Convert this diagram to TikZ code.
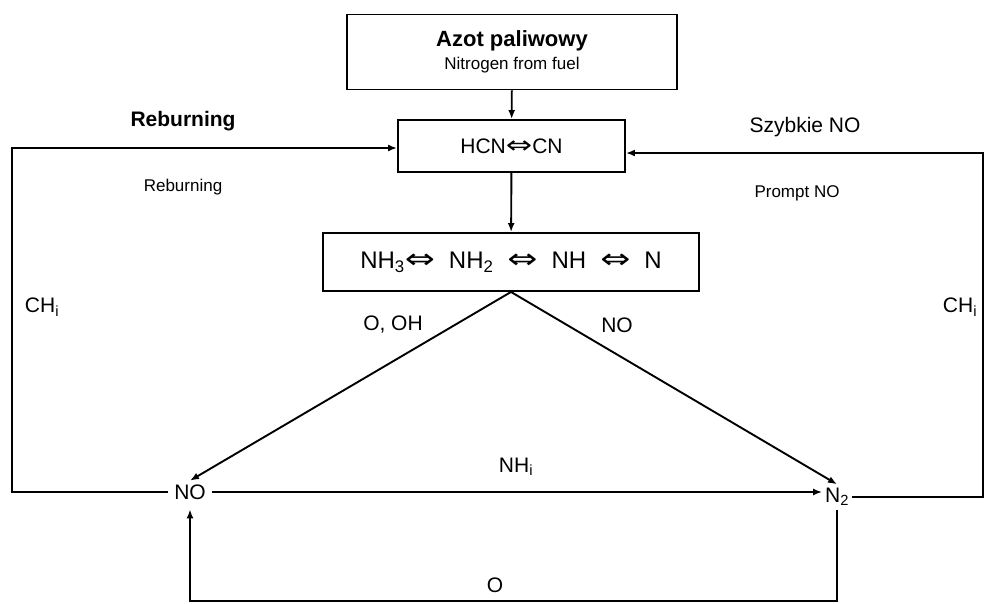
\documentclass[tikz,border=0pt]{standalone}
\usepackage{fontspec}
\setmainfont{Liberation Sans}
\newfontfamily\symfont{DejaVu Sans}
\usetikzlibrary{arrows.meta}

\newcommand{\eqv}{{\symfont\scalebox{1.5}[1.15]{⇔}}}

\begin{document}
\begin{tikzpicture}[x=1pt,y=-1pt,line width=1.9pt,
  >={Latex[length=9pt,width=7pt]},
  box/.style={draw,rectangle,inner sep=0pt},
  lbl/.style={font=\fontsize{21}{24}\selectfont,inner sep=3pt},
  small/.style={font=\fontsize{17}{20}\selectfont,inner sep=1pt}]

	\useasboundingbox (0,0) rectangle (984,603);

	\node at (512,52) [box,minimum width=330,minimum height=75,align=center] (fuel)
		{{\bfseries\fontsize{22}{24}\selectfont Azot paliwowy}\\[5pt]{\fontsize{17}{19}\selectfont Nitrogen from fuel}};
	\node at (511.5,146) [box,lbl,minimum width=227,minimum height=52] (hcn) {HCN\eqv CN};
	\node at (511,262) [box,font=\fontsize{24}{26}\selectfont,minimum width=376,minimum height=58] (nh)
		{NH\textsubscript{3}\eqv\hspace{14pt}NH\textsubscript{2}\hspace{14pt}\eqv\hspace{14pt}NH\hspace{14pt}\eqv\hspace{14pt}N};

	\node at (190,492) [lbl,inner xsep=5pt] (no) {NO};
	\node at (837,497) [lbl,inner xsep=2pt] (n2) {N\textsubscript{2}};

	% labels
	\node at (183,121) [lbl,font=\bfseries\fontsize{21}{24}\selectfont] (reb1) {Reburning};
	\node at (183,187) [small] (reb2) {Reburning};
	\node at (805,127) [lbl] (szyb) {Szybkie NO};
	\node at (797,193) [small] (prompt) {Prompt NO};
	\node at (42,307) [lbl] (chl) {CH\textsubscript{i}};
	\node at (960,307) [lbl] (chr) {CH\textsubscript{i}};
	\node at (393,325) [lbl] (ooh) {O, OH};
	\node at (617,325) [lbl] (nolbl) {NO};
	\node at (516,467) [lbl] (nhi) {NH\textsubscript{i}};
	\node at (495,585) [lbl] (olbl) {O};

	\coordinate (ltop) at (12,148);
	\coordinate (rtop) at (983,153);
	\coordinate (bot) at (0,601);

	\draw[->] (fuel) -- (hcn);
	\draw[->] (hcn) -- (nh);
	\draw[->] (nh.south) -- (no.north);
	\draw[->] (nh.south) -- (n2.north);
	\draw[->] (no.east) -- (n2.west |- no.east);

	\draw[->] (no.west) -| (ltop) -- (hcn.west |- ltop);
	\draw[->] (n2.east) -| (rtop) -- (hcn.east |- rtop);
	\draw[->,shorten >=6pt] (n2.south) -- (n2.south |- bot) -| (no.south);

\end{tikzpicture}
\end{document}
